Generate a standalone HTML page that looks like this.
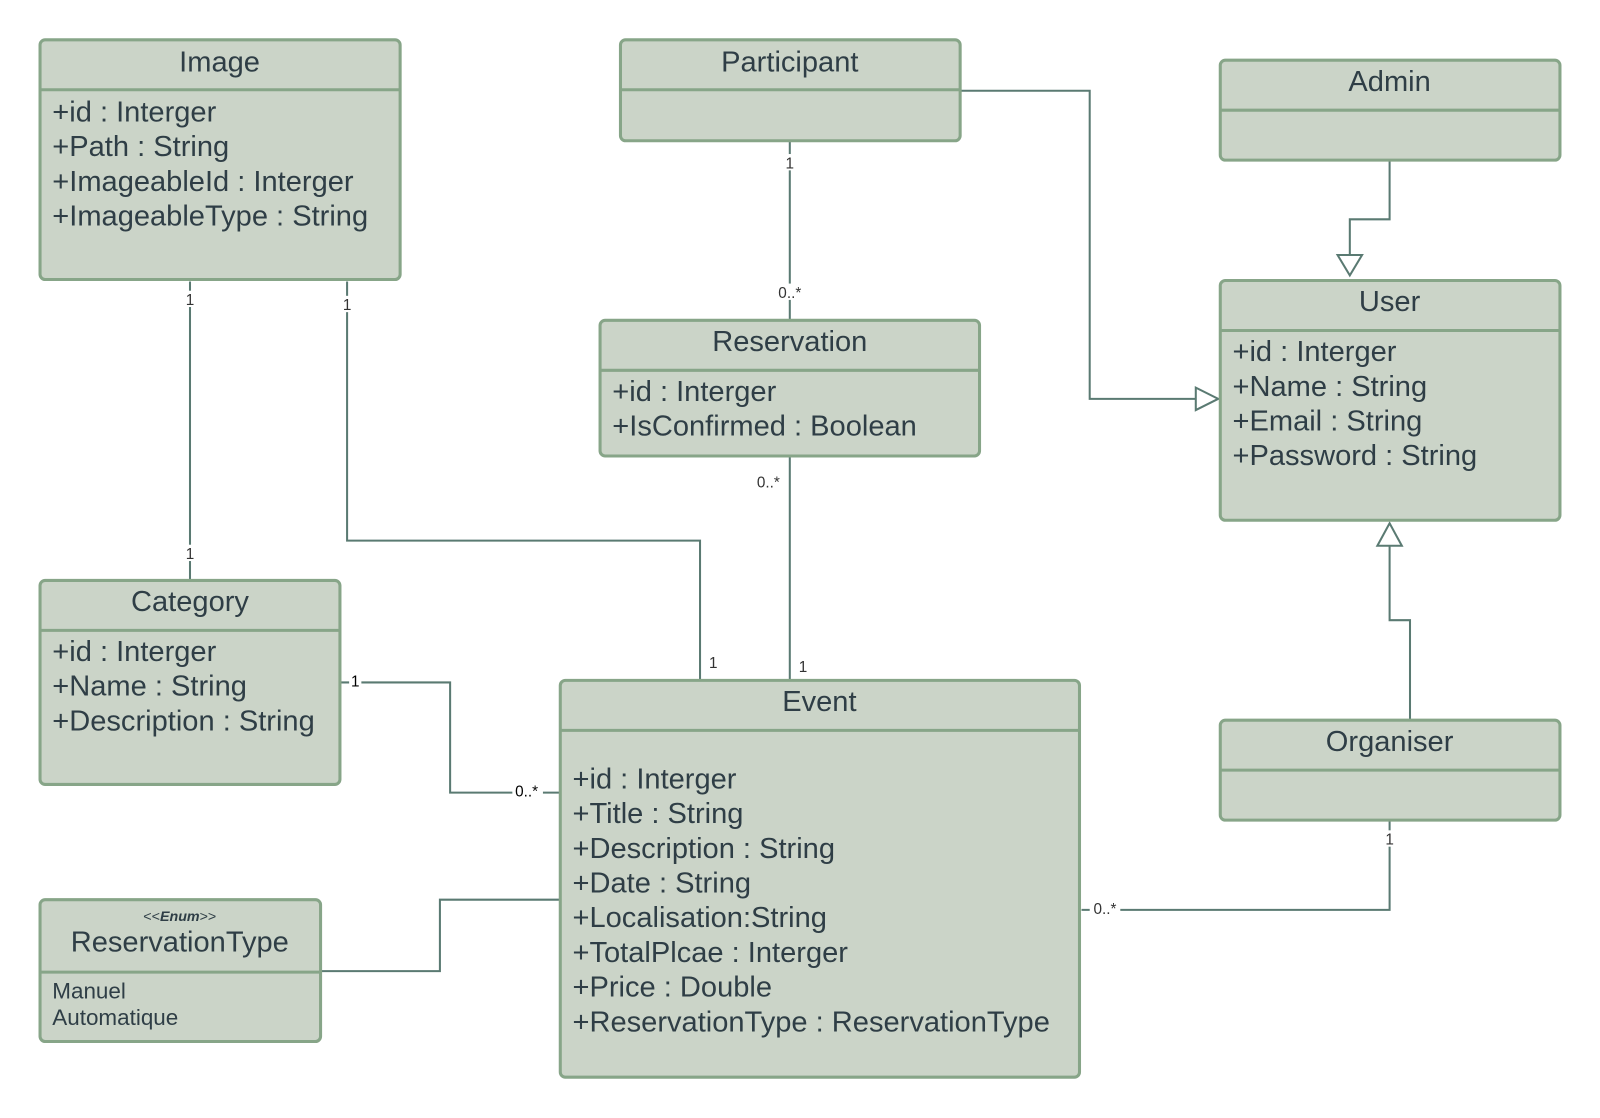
<!DOCTYPE html>
<html><head><meta charset="utf-8"><style>
html,body{margin:0;padding:0;background:#fff;}
svg{display:block;}
text{font-family:"Liberation Sans",sans-serif;fill:#2f3e46;}
.t{font-size:28.5px;text-anchor:middle;}
.a{font-size:28.5px;}
.s{font-size:15px;text-anchor:middle;fill:#333;}
.b{fill:#cbd4c8;stroke:#87a588;stroke-width:3;}
.d{stroke:#87a588;stroke-width:3;}
.c{fill:none;stroke:#5a7a72;stroke-width:2;}
.h{fill:#fff;stroke:#5a7a72;stroke-width:2;}
</style></head><body>
<svg width="1600" height="1118" viewBox="0 0 1568 1096">
<!-- connectors -->
<path class="c" d="M186 276V569"/>
<path class="c" d="M340 276V530H686V667"/>
<path class="c" d="M774 139V314"/>
<path class="c" d="M774 448V667"/>
<path class="c" d="M942 89H1068V391H1172"/>
<polygon class="h" points="1172,380 1194,391 1172,402"/>
<path class="c" d="M1362 158V215H1323V250"/>
<polygon class="h" points="1311,250 1335,250 1323,270"/>
<path class="c" d="M1382 706V608H1362V535"/>
<polygon class="h" points="1350,535 1374,535 1362,513"/>
<path class="c" d="M1362 805V892H1060"/>
<path class="c" d="M334 669H441V777H549"/>
<path class="c" d="M315 952H431V882H549"/>
<!-- labels -->
<g>
<rect x="180" y="285" width="12" height="16" fill="#fff"/><text class="s" x="186" y="299">1</text>
<rect x="180" y="534" width="12" height="16" fill="#fff"/><text class="s" x="186" y="548">1</text>
<rect x="334" y="290" width="12" height="16" fill="#fff"/><text class="s" x="340" y="304">1</text>
<text class="s" x="699" y="655">1</text>
<rect x="768" y="151" width="12" height="16" fill="#fff"/><text class="s" x="774" y="165">1</text>
<rect x="758" y="278" width="32" height="16" fill="#fff"/><text class="s" x="774" y="292">0..*</text>
<text class="s" x="753" y="478">0..*</text>
<text class="s" x="787" y="659">1</text>
<rect x="1356" y="814" width="12" height="16" fill="#fff"/><text class="s" x="1362" y="828">1</text>
<rect x="1068" y="882" width="30" height="16" fill="#fff"/><text class="s" x="1083" y="896">0..*</text>
<rect x="342" y="660" width="12" height="16" fill="#fff"/><text class="s" x="348" y="673" style="fill:#000">1</text>
<rect x="502" y="768" width="30" height="16" fill="#fff"/><text class="s" x="516" y="781" style="fill:#000">0..*</text>
</g>
<!-- Image -->
<rect class="b" x="39" y="39" width="353" height="235" rx="5"/>
<line class="d" x1="39" y1="88" x2="392" y2="88"/>
<text class="t" x="215" y="70">Image</text>
<text class="a" x="51" y="119">+id : Interger</text>
<text class="a" x="51" y="153">+Path : String</text>
<text class="a" x="51" y="187">+ImageableId : Interger</text>
<text class="a" x="51" y="221">+ImageableType : String</text>
<!-- Participant -->
<rect class="b" x="608" y="39" width="333" height="99" rx="5"/>
<line class="d" x1="608" y1="88" x2="941" y2="88"/>
<text class="t" x="774" y="70">Participant</text>
<!-- Admin -->
<rect class="b" x="1196" y="59" width="333" height="98" rx="5"/>
<line class="d" x1="1196" y1="108" x2="1529" y2="108"/>
<text class="t" x="1362" y="89">Admin</text>
<!-- User -->
<rect class="b" x="1196" y="275" width="333" height="235" rx="5"/>
<line class="d" x1="1196" y1="324" x2="1529" y2="324"/>
<text class="t" x="1362" y="305">User</text>
<text class="a" x="1208" y="354">+id : Interger</text>
<text class="a" x="1208" y="388">+Name : String</text>
<text class="a" x="1208" y="422">+Email : String</text>
<text class="a" x="1208" y="456">+Password : String</text>
<!-- Reservation -->
<rect class="b" x="588" y="314" width="372" height="133" rx="5"/>
<line class="d" x1="588" y1="363" x2="960" y2="363"/>
<text class="t" x="774" y="344">Reservation</text>
<text class="a" x="600" y="393">+id : Interger</text>
<text class="a" x="600" y="427">+IsConfirmed : Boolean</text>
<!-- Category -->
<rect class="b" x="39" y="569" width="294" height="200" rx="5"/>
<line class="d" x1="39" y1="618" x2="333" y2="618"/>
<text class="t" x="186" y="599">Category</text>
<text class="a" x="51" y="648">+id : Interger</text>
<text class="a" x="51" y="682">+Name : String</text>
<text class="a" x="51" y="716">+Description : String</text>
<!-- Event -->
<rect class="b" x="549" y="667" width="509" height="389" rx="5"/>
<line class="d" x1="549" y1="716" x2="1058" y2="716"/>
<text class="t" x="803" y="697">Event</text>
<text class="a" x="561" y="773">+id : Interger</text>
<text class="a" x="561" y="807">+Title : String</text>
<text class="a" x="561" y="841">+Description : String</text>
<text class="a" x="561" y="875">+Date : String</text>
<text class="a" x="561" y="909">+Localisation:String</text>
<text class="a" x="561" y="943">+TotalPlcae : Interger</text>
<text class="a" x="561" y="977">+Price : Double</text>
<text class="a" x="561" y="1011">+ReservationType : ReservationType</text>
<!-- Organiser -->
<rect class="b" x="1196" y="706" width="333" height="98" rx="5"/>
<line class="d" x1="1196" y1="755" x2="1529" y2="755"/>
<text class="t" x="1362" y="736">Organiser</text>
<!-- ReservationType -->
<rect class="b" x="39" y="882" width="275" height="139" rx="5"/>
<line class="d" x1="39" y1="953" x2="314" y2="953"/>
<text x="176" y="903" style="font-size:14px;text-anchor:middle;">&lt;&lt;<tspan font-style="italic" font-weight="bold">Enum</tspan>&gt;&gt;</text>
<text class="t" x="176" y="933">ReservationType</text>
<text x="51" y="979" style="font-size:22px">Manuel</text>
<text x="51" y="1005" style="font-size:22px">Automatique</text>
</svg>
</body></html>
